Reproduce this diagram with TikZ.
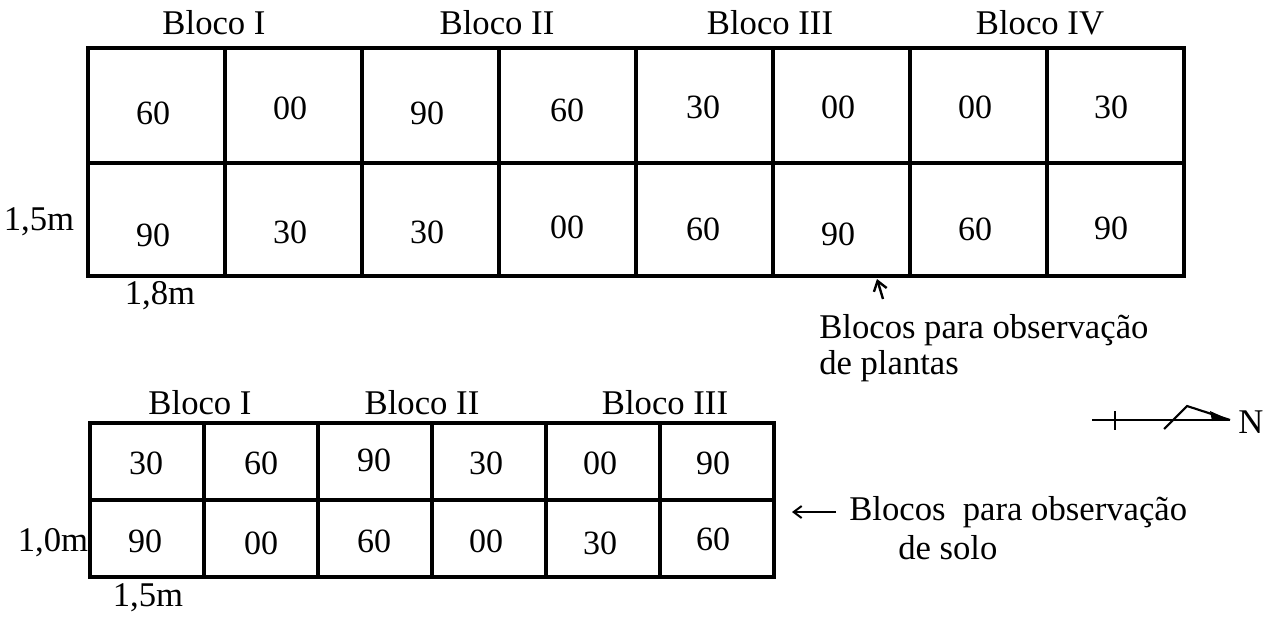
\documentclass[tikz,border=0pt]{standalone}
\usepackage{fontspec}
\setmainfont{Liberation Serif}
\usetikzlibrary{arrows.meta}

\begin{document}
\begin{tikzpicture}[x=0.75pt,y=0.75pt,yscale=-1,xscale=1,
  gridline/.style={line width=2.5pt},
  cellnum/.style={inner sep=0.75pt,font=\fontsize{25.5}{30}\selectfont},
  lbl/.style={inner sep=0.75pt,font=\fontsize{26}{31}\selectfont}]
%set diagram left start at 0, and has height of 618
\path (0,0) rectangle (1279,618);

%Shape: Grid [plantas]
\draw [gridline] (88,48) -- (1184,48) -- (1184,276) -- (88,276) -- cycle ;
\draw [gridline] (88,163) -- (1184,163) ;
\draw [gridline] (225,48) -- (225,276)(362,48) -- (362,276)(499,48) -- (499,276)(636,48) -- (636,276)(773,48) -- (773,276)(910,48) -- (910,276)(1047,48) -- (1047,276) ;

%Shape: Grid [solo]
\draw [gridline] (90,423) -- (774,423) -- (774,577) -- (90,577) -- cycle ;
\draw [gridline] (90,500) -- (774,500) ;
\draw [gridline] (204,423) -- (204,577)(318,423) -- (318,577)(432,423) -- (432,577)(546,423) -- (546,577)(660,423) -- (660,577) ;

% Text Node
\draw (214,23) node [lbl] (blocoI) {Bloco I};
\draw (497,23) node [lbl] (blocoII) {Bloco II};
\draw (770,23) node [lbl] (blocoIII) {Bloco III};
\draw (1040,23) node [lbl] (blocoIV) {Bloco IV};

% Text Node
\draw (153,113) node [cellnum] (pa1) {60};
\draw (290,108) node [cellnum] (pa2) {00};
\draw (427,113) node [cellnum] (pa3) {90};
\draw (567,110) node [cellnum] (pa4) {60};
\draw (703,107) node [cellnum] (pa5) {30};
\draw (838,107) node [cellnum] (pa6) {00};
\draw (975,107) node [cellnum] (pa7) {00};
\draw (1111,107) node [cellnum] (pa8) {30};
\draw (153,235) node [cellnum] (pb1) {90};
\draw (290,232) node [cellnum] (pb2) {30};
\draw (427,232) node [cellnum] (pb3) {30};
\draw (567,227) node [cellnum] (pb4) {00};
\draw (703,229) node [cellnum] (pb5) {60};
\draw (838,234) node [cellnum] (pb6) {90};
\draw (975,229) node [cellnum] (pb7) {60};
\draw (1111,228) node [cellnum] (pb8) {90};

% Text Node
\draw (39,222) node [lbl] (altp) {1,5m};
\draw (160,296) node [lbl] (largp) {1,8m};

% Text Node
\draw (818,330) node [lbl,anchor=west] (plantasA) {Blocos para observação};
\draw (818,366) node [lbl,anchor=west] (plantasB) {de plantas};
%Straight Lines [arrow plantas]
\coordinate (ptail) at (883,299);
\coordinate (ptip) at (877,279);
\draw [line width=1.8pt,-{Straight Barb[length=7pt,width=10pt]}] (ptail) -- (ptip) ;

% Text Node
\draw (200,403) node [lbl] (sblocoI) {Bloco I};
\draw (422,403) node [lbl] (sblocoII) {Bloco II};
\draw (665,403) node [lbl] (sblocoIII) {Bloco III};

% Text Node
\draw (146,463) node [cellnum] (sa1) {30};
\draw (261,463) node [cellnum] (sa2) {60};
\draw (374,460) node [cellnum] (sa3) {90};
\draw (486,463) node [cellnum] (sa4) {30};
\draw (600,463) node [cellnum] (sa5) {00};
\draw (713,463) node [cellnum] (sa6) {90};
\draw (145,541) node [cellnum] (sb1) {90};
\draw (261,543) node [cellnum] (sb2) {00};
\draw (374,541) node [cellnum] (sb3) {60};
\draw (486,541) node [cellnum] (sb4) {00};
\draw (600,543) node [cellnum] (sb5) {30};
\draw (713,539) node [cellnum] (sb6) {60};

% Text Node
\draw (53,543) node [lbl] (alts) {1,0m};
\draw (148,598) node [lbl] (largs) {1,5m};

% Text Node
\draw (848,512) node [lbl,anchor=west] (soloA) {Blocos\ \ para observação};
\draw (897,548) node [lbl,anchor=west] (soloB) {de solo};
%Straight Lines [arrow solo]
\coordinate (stip) at (792,512);
\draw [line width=1.5pt,-{Straight Barb[length=6pt,width=9pt]}] (soloA.west) ++(-12,0) coordinate (stail) (stail) -- (stip) ;

%Straight Lines [norte]
\coordinate (nw) at (1092,420);
\coordinate (ne) at (1230,420);
\draw [line width=1.6pt] (nw) -- (ne) ;
\draw [line width=1.6pt] (1115,411) -- (1115,430) ;
\draw [line width=1.6pt,line join=miter] (1164,429) -- (1187,406) -- (ne) ;
\fill (ne) -- (1210,411) -- (1212,421) -- cycle ;
\draw (1251,422) node [lbl] (norte) {N};

\end{tikzpicture}
\end{document}
